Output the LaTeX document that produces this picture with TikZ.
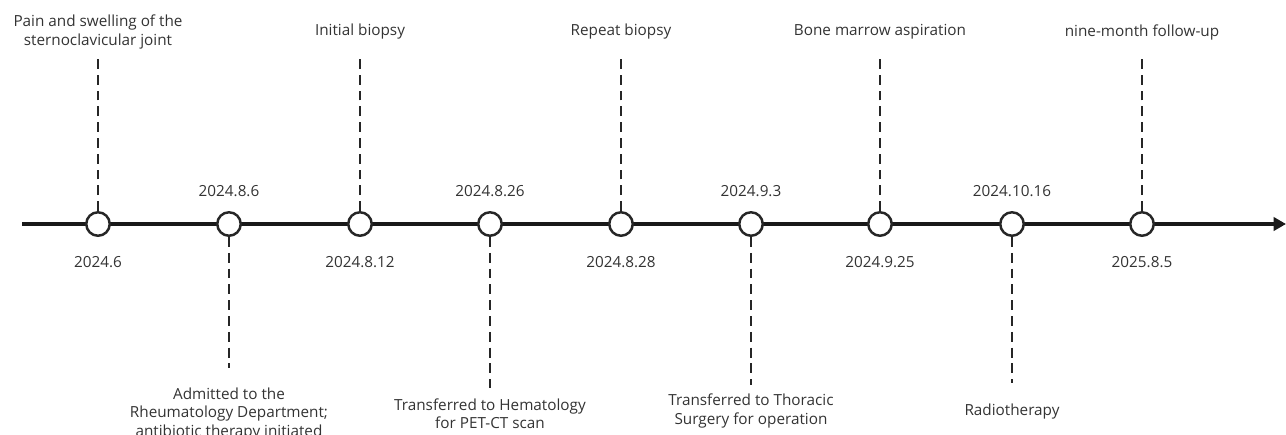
\documentclass[tikz,border=0pt]{standalone}
\usepackage{fontspec}
\setmainfont{Open Sans}
\usetikzlibrary{arrows.meta,positioning}

\begin{document}
\begin{tikzpicture}[
    x=0.02cm, y=-0.02cm,
    dot/.style={circle, draw=black!85, line width=1.4pt, fill=white, minimum size=0.47cm, inner sep=0pt},
    datelbl/.style={font=\fontsize{8.7}{10}\selectfont, text=black!80},
    evtxt/.style={font=\fontsize{8.7}{10.3}\selectfont, text=black!80, align=center},
    vstem/.style={line width=1.35pt, draw=black!85, dash pattern=on 5.6pt off 3.4pt},
    axis/.style={-{Triangle[length=7pt, width=7.5pt]}, line width=1.9pt, draw=black!90},
  ]
  \useasboundingbox (0,0) rectangle (1286,434);

  \coordinate (axL) at (22,224);
  \coordinate (axR) at (1286,224);
  \draw[axis] (axL) -- (axR);

  % events on the axis
  \node[dot] (e1) at (98,224) {};
  \node[dot] (e2) at (229,224) {};
  \node[dot] (e3) at (360,224) {};
  \node[dot] (e4) at (490,224) {};
  \node[dot] (e5) at (621,224) {};
  \node[dot] (e6) at (751,224) {};
  \node[dot] (e7) at (880,224) {};
  \node[dot] (e8) at (1012,224) {};
  \node[dot] (e9) at (1142,224) {};

  % dates
  \node[datelbl] (d1) at (98,262) {2024.6};
  \node[datelbl] (d2) at (229,191) {2024.8.6};
  \node[datelbl] (d3) at (360,262) {2024.8.12};
  \node[datelbl] (d4) at (490,191) {2024.8.26};
  \node[datelbl] (d5) at (621,262) {2024.8.28};
  \node[datelbl] (d6) at (751,191) {2024.9.3};
  \node[datelbl] (d7) at (880,262) {2024.9.25};
  \node[datelbl] (d8) at (1012,191) {2024.10.16};
  \node[datelbl] (d9) at (1142,262) {2025.8.5};

  % descriptions
  \node[evtxt] (t1) at (98,32) {Pain and swelling of the\\sternoclavicular joint};
  \node[evtxt] (t2) at (229,414) {Admitted to the\\Rheumatology Department;\\antibiotic therapy initiated};
  \node[evtxt] (t3) at (360,32) {Initial biopsy};
  \node[evtxt] (t4) at (490,414) {Transferred to Hematology\\for PET-CT scan};
  \node[evtxt] (t5) at (621,32) {Repeat biopsy};
  \node[evtxt] (t6) at (751,411) {Transferred to Thoracic\\Surgery for operation};
  \node[evtxt] (t7) at (880,32) {Bone marrow aspiration};
  \node[evtxt] (t8) at (1012,412) {Radiotherapy};
  \node[evtxt] (t9) at (1142,32) {nine-month follow-up};

  % stem ends
  \coordinate (s1) at (98,57);
  \coordinate (s2) at (229,368);
  \coordinate (s3) at (360,57);
  \coordinate (s4) at (490,388);
  \coordinate (s5) at (621,57);
  \coordinate (s6) at (751,385);
  \coordinate (s7) at (880,57);
  \coordinate (s8) at (1012,383);
  \coordinate (s9) at (1142,57);

  \draw[vstem] (e1.north) -- (s1);
  \draw[vstem] (e2.south) -- (s2);
  \draw[vstem] (e3.north) -- (s3);
  \draw[vstem] (e4.south) -- (s4);
  \draw[vstem] (e5.north) -- (s5);
  \draw[vstem] (e6.south) -- (s6);
  \draw[vstem] (e7.north) -- (s7);
  \draw[vstem] (e8.south) -- (s8);
  \draw[vstem] (e9.north) -- (s9);
\end{tikzpicture}
\end{document}
